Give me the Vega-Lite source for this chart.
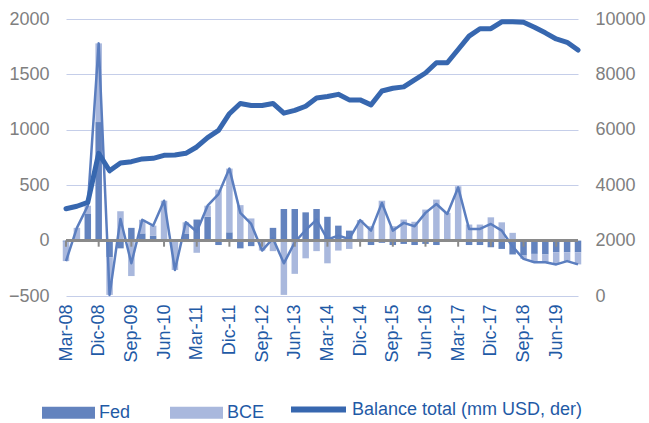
{
  "$schema": "https://vega.github.io/schema/vega-lite/v6.json",
  "width": 512,
  "height": 277,
  "autosize": {"type": "none"},
  "padding": {"left": 66, "top": 19, "right": 71, "bottom": 127},
  "background": "white",
  "config": {
    "font": "Liberation Sans",
    "view": {"stroke": null},
    "axis": {"domain": false, "ticks": false, "labelFont": "Liberation Sans", "title": null},
    "legend": {"padding": 0, "labelFont": "Liberation Sans"}
  },
  "data": {
    "values": [
      {"i": 0, "q": "Mar-08", "Fed": -10, "BCE": -175, "bal": 3150},
      {"i": 1, "q": "Jun-08", "Fed": 0, "BCE": 115, "bal": 3240},
      {"i": 2, "q": "Sep-08", "Fed": 240, "BCE": 75, "bal": 3380},
      {"i": 3, "q": "Dic-08", "Fed": 1070, "BCE": 710, "bal": 5150},
      {"i": 4, "q": "Mar-09", "Fed": -150, "BCE": -340, "bal": 4520},
      {"i": 5, "q": "Jun-09", "Fed": -70, "BCE": 265, "bal": 4800},
      {"i": 6, "q": "Sep-09", "Fed": 115, "BCE": -320, "bal": 4850},
      {"i": 7, "q": "Dic-09", "Fed": 65, "BCE": 123, "bal": 4950},
      {"i": 8, "q": "Mar-10", "Fed": 45, "BCE": 90, "bal": 4970},
      {"i": 9, "q": "Jun-10", "Fed": 0, "BCE": 360, "bal": 5080},
      {"i": 10, "q": "Sep-10", "Fed": -10, "BCE": -255, "bal": 5090},
      {"i": 11, "q": "Dic-10", "Fed": 60, "BCE": 105, "bal": 5150},
      {"i": 12, "q": "Mar-11", "Fed": 190, "BCE": -110, "bal": 5380},
      {"i": 13, "q": "Jun-11", "Fed": 215, "BCE": 100, "bal": 5720},
      {"i": 14, "q": "Sep-11", "Fed": -40, "BCE": 460, "bal": 5980},
      {"i": 15, "q": "Dic-11", "Fed": 75, "BCE": 575, "bal": 6580},
      {"i": 16, "q": "Mar-12", "Fed": -70, "BCE": 320, "bal": 6950},
      {"i": 17, "q": "Jun-12", "Fed": -50, "BCE": 200, "bal": 6880},
      {"i": 18, "q": "Sep-12", "Fed": 0, "BCE": -90, "bal": 6880},
      {"i": 19, "q": "Dic-12", "Fed": 115, "BCE": -95, "bal": 6950},
      {"i": 20, "q": "Mar-13", "Fed": 285, "BCE": -490, "bal": 6600},
      {"i": 21, "q": "Jun-13", "Fed": 285, "BCE": -300, "bal": 6700},
      {"i": 22, "q": "Sep-13", "Fed": 255, "BCE": -160, "bal": 6850},
      {"i": 23, "q": "Dic-13", "Fed": 285, "BCE": -95, "bal": 7150},
      {"i": 24, "q": "Mar-14", "Fed": 215, "BCE": -205, "bal": 7200},
      {"i": 25, "q": "Jun-14", "Fed": 135, "BCE": -90, "bal": 7280},
      {"i": 26, "q": "Sep-14", "Fed": 90, "BCE": -75, "bal": 7080},
      {"i": 27, "q": "Dic-14", "Fed": 20, "BCE": 165, "bal": 7080},
      {"i": 28, "q": "Mar-15", "Fed": -40, "BCE": 130, "bal": 6900},
      {"i": 29, "q": "Jun-15", "Fed": -20, "BCE": 360, "bal": 7400},
      {"i": 30, "q": "Sep-15", "Fed": -40, "BCE": 130, "bal": 7500},
      {"i": 31, "q": "Dic-15", "Fed": -30, "BCE": 190, "bal": 7550},
      {"i": 32, "q": "Mar-16", "Fed": -40, "BCE": 170, "bal": 7800},
      {"i": 33, "q": "Jun-16", "Fed": -30, "BCE": 280, "bal": 8050},
      {"i": 34, "q": "Sep-16", "Fed": -40, "BCE": 370, "bal": 8420},
      {"i": 35, "q": "Dic-16", "Fed": -10, "BCE": 250, "bal": 8420},
      {"i": 36, "q": "Mar-17", "Fed": -10, "BCE": 490, "bal": 8900},
      {"i": 37, "q": "Jun-17", "Fed": -40, "BCE": 145, "bal": 9380},
      {"i": 38, "q": "Sep-17", "Fed": -40, "BCE": 145, "bal": 9650},
      {"i": 39, "q": "Dic-17", "Fed": -60, "BCE": 210, "bal": 9650},
      {"i": 40, "q": "Mar-18", "Fed": -75, "BCE": 165, "bal": 9900},
      {"i": 41, "q": "Jun-18", "Fed": -125, "BCE": 70, "bal": 9900},
      {"i": 42, "q": "Sep-18", "Fed": -135, "BCE": -30, "bal": 9880},
      {"i": 43, "q": "Dic-18", "Fed": -120, "BCE": -75, "bal": 9700},
      {"i": 44, "q": "Mar-19", "Fed": -125, "BCE": -70, "bal": 9500},
      {"i": 45, "q": "Jun-19", "Fed": -105, "BCE": -110, "bal": 9280},
      {"i": 46, "q": "Sep-19", "Fed": -105, "BCE": -80, "bal": 9160},
      {"i": 47, "q": "Dic-19", "Fed": -105, "BCE": -110, "bal": 8880}
    ]
  },
  "encoding": {
    "x": {
      "field": "q",
      "type": "ordinal",
      "sort": null,
      "scale": {"type": "point", "padding": 0},
      "axis": {
        "values": ["Mar-08","Dic-08","Sep-09","Jun-10","Mar-11","Dic-11","Sep-12","Jun-13","Mar-14","Dic-14","Sep-15","Jun-16","Mar-17","Dic-17","Sep-18","Jun-19"],
        "labelAngle": 270,
        "labelFontSize": 18,
        "labelColor": "#1f5aa6",
        "labelPadding": 8,
        "labelOverlap": false,
        "grid": false
      }
    }
  },
  "layer": [
    {
      "layer": [
        {
          "transform": [{"fold": ["Fed", "BCE"], "as": ["serie", "valor"]}],
          "mark": {"type": "bar", "size": 6.5},
          "encoding": {
            "y": {
              "field": "valor",
              "type": "quantitative",
              "stack": "zero",
              "scale": {"domain": [-500, 2000], "nice": false},
              "axis": {
                "orient": "left",
                "values": [-500, 0, 500, 1000, 1500, 2000],
                "format": "d",
                "labelFontSize": 18,
                "labelColor": "#7f7f7f",
                "labelPadding": 17,
                "grid": true,
                "gridColor": "#c5cee9",
                "gridWidth": 1
              }
            },
            "color": {
              "field": "serie",
              "type": "nominal",
              "scale": {"domain": ["Fed", "BCE"], "range": ["#6383be", "#a9b8dd"]},
              "legend": {
                "title": null,
                "orient": "none",
                "legendX": -24,
                "legendY": 367,
                "direction": "horizontal",
                "symbolType": "M-1,-0.226H1V0.226H-1Z",
                "symbolSize": 2809,
                "symbolStrokeWidth": 0,
                "labelFontSize": 18,
                "labelColor": "#1f5aa6",
                "labelOffset": 4,
                "columnPadding": 39,
                "labelLimit": 300
              }
            },
            "order": {"field": "serie", "sort": "descending"}
          }
        },
        {
          "transform": [
            {"fold": ["Fed", "BCE"], "as": ["serie", "valor"]},
            {"aggregate": [{"op": "sum", "field": "valor", "as": "neto"}], "groupby": ["q", "i"]}
          ],
          "mark": {"type": "line", "color": "#5b7ebf", "strokeWidth": 2.5, "strokeJoin": "round"},
          "encoding": {
            "y": {"field": "neto", "type": "quantitative"},
            "order": {"field": "i", "type": "quantitative"}
          }
        },
        {
          "mark": {"type": "rule", "color": "#8a8a8a", "strokeWidth": 2.5},
          "encoding": {"y": {"datum": 0}, "x": null}
        },
        {
          "transform": [{"filter": {"field": "q", "oneOf": ["Mar-08","Dic-08","Sep-09","Jun-10","Mar-11","Dic-11","Sep-12","Jun-13","Mar-14","Dic-14","Sep-15","Jun-16","Mar-17","Dic-17","Sep-18","Jun-19"]}}],
          "mark": {"type": "rule", "color": "#8a8a8a", "strokeWidth": 2},
          "encoding": {"y": {"datum": 0}, "y2": {"datum": -55}}
        }
      ]
    },
    {
      "mark": {"type": "line", "strokeWidth": 5, "strokeJoin": "round", "strokeCap": "round"},
      "encoding": {
        "y": {
          "field": "bal",
          "type": "quantitative",
          "scale": {"domain": [0, 10000], "nice": false},
          "axis": {
            "orient": "right",
            "values": [0, 2000, 4000, 6000, 8000, 10000],
            "format": "d",
            "labelFontSize": 18,
            "labelColor": "#7f7f7f",
            "labelPadding": 17,
            "grid": false
          }
        },
        "stroke": {
          "datum": "Balance total (mm USD, der)",
          "scale": {"range": ["#3767af"]},
          "legend": {
            "title": null,
            "orient": "none",
            "legendX": 222,
            "legendY": 360,
            "symbolType": "stroke",
            "symbolSize": 3025,
            "symbolStrokeWidth": 6,
            "labelFontSize": 18,
            "labelColor": "#1f5aa6",
            "labelOffset": 3,
            "labelLimit": 400
          }
        },
        "order": {"field": "i", "type": "quantitative"}
      }
    }
  ],
  "resolve": {"scale": {"y": "independent"}}
}
